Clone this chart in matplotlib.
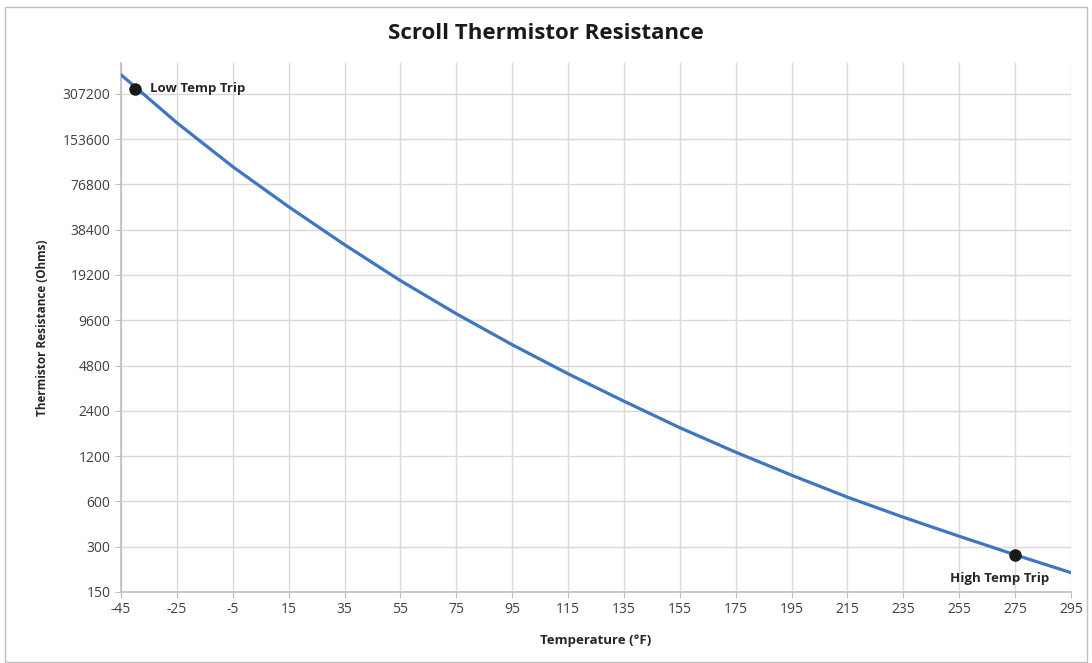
import matplotlib.pyplot as plt
from matplotlib.patches import Rectangle
from matplotlib.ticker import FixedLocator, NullLocator

# temperature (F) and resistance (ohms)
temps = [-45, -25, -5, 15, 35, 55, 75, 95, 115, 135, 155, 175, 195, 215, 235, 255, 275, 295]
ohms = [411000, 197100, 100600, 54500, 30500, 17600, 10600, 6600, 4230, 2780,
        1853, 1274, 896, 640, 471, 352, 265, 201.6]

trip_temps = [-40, 275]
trip_ohms = [331000, 265]
trip_labels = ['Low Temp Trip', 'High Temp Trip']

y_ticks = [150, 300, 600, 1200, 2400, 4800, 9600, 19200, 38400, 76800, 153600, 307200]
x_ticks = list(range(-45, 296, 20))

plt.rcParams['font.family'] = ['Open Sans', 'DejaVu Sans']

fig = plt.figure(figsize=(10.92, 6.63), dpi=100)
ax = fig.add_axes([0.1108, 0.1071, 0.870, 0.7979])

ax.plot(temps, ohms, '-', color='#3F76C0', lw=2.3, zorder=3)
ax.plot(trip_temps, trip_ohms, 'o', color='#1a1a1a', ms=8, zorder=4)

ax.annotate(trip_labels[0], (trip_temps[0], trip_ohms[0]), xytext=(11, 0),
            textcoords='offset points', ha='left', va='center',
            fontsize=9.5, fontweight='bold', color='#262626')
ax.annotate(trip_labels[1], (trip_temps[1], trip_ohms[1]), xytext=(-11, -17),
            textcoords='offset points', ha='center', va='center',
            fontsize=9.5, fontweight='bold', color='#262626')

ax.set_yscale('log', base=2)
ax.set_ylim(150, 492000)
ax.set_xlim(-45, 295)
ax.yaxis.set_major_locator(FixedLocator(y_ticks))
ax.yaxis.set_minor_locator(NullLocator())
ax.set_yticklabels([str(v) for v in y_ticks])
ax.set_xticks(x_ticks)
ax.set_xticklabels([str(v) for v in x_ticks])

ax.grid(True, color='#D9D9D9', lw=1)
ax.set_axisbelow(True)
for s in ['top', 'right']:
    ax.spines[s].set_visible(False)
for s in ['left', 'bottom']:
    ax.spines[s].set_color('#BFBFBF')
    ax.spines[s].set_linewidth(1.2)
ax.tick_params(axis='both', colors='#BFBFBF', labelcolor='#404040', labelsize=10, length=4)

ax.set_xlabel('Temperature (°F)', fontsize=9.5, fontweight='bold', color='#262626', labelpad=12)
ax.set_ylabel('Thermistor Resistance (Ohms)', fontsize=8.5, fontweight='bold', color='#262626', labelpad=10)
fig.suptitle('Scroll Thermistor Resistance', x=0.5, y=0.965, fontsize=16, fontweight='bold', color='#1a1a1a')

fig.patches.append(Rectangle((0.005, 0.002), 0.99, 0.987, transform=fig.transFigure,
                             fill=False, edgecolor='#BFBFBF', lw=1))

fig.savefig('out.png', dpi=100)
